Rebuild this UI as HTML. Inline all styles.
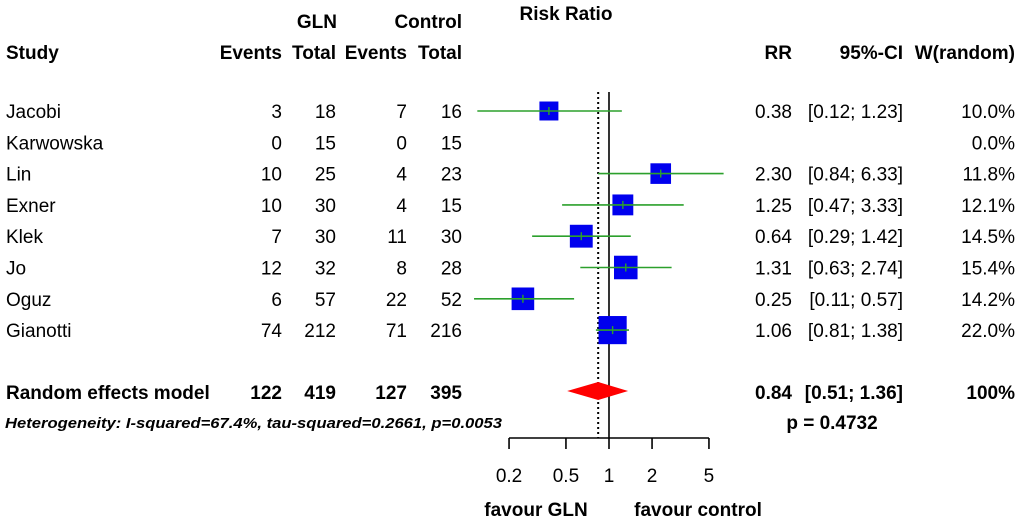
<!DOCTYPE html>
<html><head><meta charset="utf-8"><style>
html,body{margin:0;padding:0;background:#fff}
svg{display:block}
text{font-family:"Liberation Sans",Arial,sans-serif;font-size:19px;fill:#000}
.b{font-weight:bold}
</style></head><body>
<svg id="fp" width="1024" height="521">
<g id="hdr">
<text class="b" x="337" y="28" text-anchor="end">GLN</text>
<text class="b" x="462" y="28" text-anchor="end">Control</text>
<text class="b" x="566" y="20" text-anchor="middle">Risk Ratio</text>
<text class="b" x="6" y="59">Study</text>
<text class="b" x="282" y="59" text-anchor="end">Events</text>
<text class="b" x="336" y="59" text-anchor="end">Total</text>
<text class="b" x="407" y="59" text-anchor="end">Events</text>
<text class="b" x="462" y="59" text-anchor="end">Total</text>
<text class="b" x="792" y="59" text-anchor="end">RR</text>
<text class="b" x="903" y="59" text-anchor="end">95%-CI</text>
<text class="b" x="1015" y="59" text-anchor="end">W(random)</text>
</g>
<g id="rows"></g>
<g id="plot"></g>
<text class="b" x="6" y="399">Random effects model</text>
<text class="b" x="282" y="399" text-anchor="end">122</text>
<text class="b" x="336" y="399" text-anchor="end">419</text>
<text class="b" x="407" y="399" text-anchor="end">127</text>
<text class="b" x="462" y="399" text-anchor="end">395</text>
<text class="b" x="792" y="399" text-anchor="end">0.84</text>
<text class="b" x="903" y="399" text-anchor="end">[0.51; 1.36]</text>
<text class="b" x="1015" y="399" text-anchor="end">100%</text>
<text class="b" x="5" y="428" style="font-size:15px;font-style:italic" textLength="497" lengthAdjust="spacingAndGlyphs">Heterogeneity: I-squared=67.4%, tau-squared=0.2661, p=0.0053</text>
<text class="b" x="832" y="429" text-anchor="middle">p = 0.4732</text>
<text class="b" x="536" y="516" text-anchor="middle">favour GLN</text>
<text class="b" x="698" y="516" text-anchor="middle">favour control</text>
</svg>
<script>
const studies=["Jacobi","Karwowska","Lin","Exner","Klek","Jo","Oguz","Gianotti"];
const glnEvents=[3,0,10,10,7,12,6,74];
const glnTotal=[18,15,25,30,30,32,57,212];
const ctlEvents=[7,0,4,4,11,8,22,71];
const ctlTotal=[16,15,23,15,30,28,52,216];
const rr=[0.38,null,2.30,1.25,0.64,1.31,0.25,1.06];
const lower=[0.12,null,0.84,0.47,0.29,0.63,0.11,0.81];
const upper=[1.23,null,6.33,3.33,1.42,2.74,0.57,1.38];
const weights=[10.0,0.0,11.8,12.1,14.5,15.4,14.2,22.0];
const pooled=[0.84,0.51,1.36];
const ticks=[0.2,0.5,1,2,5];
const tickLabels=["0.2","0.5","1","2","5"];

const NS="http://www.w3.org/2000/svg";
const x=v=>609+143*Math.log10(v);
const rowY=i=>111+31.3*i;
const xmin=x(0.2)-35, xmax=x(5)+20;
const clip=v=>Math.max(xmin,Math.min(xmax,v));
function mk(tag,attrs,parent,txt){const e=document.createElementNS(NS,tag);for(const k in attrs)e.setAttribute(k,attrs[k]);if(txt!=null)e.textContent=txt;parent.appendChild(e);return e;}
const rows=document.getElementById('rows'), plot=document.getElementById('plot');
let l=mk('line',{x1:x(1),x2:x(1),y1:92,y2:438,stroke:'#000','stroke-width':1.6},plot);


l=mk('line',{x1:x(pooled[0]),x2:x(pooled[0]),y1:92,y2:438,stroke:'#000','stroke-width':2,'stroke-dasharray':'2,3'},plot);


studies.forEach((s,i)=>{
  const y=rowY(i), ty=y+7;
  const f=(v,xx,nm)=>{const t=mk('text',{x:xx,y:ty,'text-anchor':'end'},rows,v);
    
    };
  let t=mk('text',{x:6,y:ty},rows,s);
  
  
  f(glnEvents[i],282,'gln-events');f(glnTotal[i],336,'gln-total');
  f(ctlEvents[i],407,'control-events');f(ctlTotal[i],462,'control-total');
  f(weights[i].toFixed(1)+'%',1015,'weight');
  if(rr[i]!=null){
    f(rr[i].toFixed(2),792,'rr-value');
    f('['+lower[i].toFixed(2)+'; '+upper[i].toFixed(2)+']',903,'ci-value');
    const sz=6*Math.sqrt(weights[i]);
    const sq=mk('rect',{x:x(rr[i])-sz/2,y:y-sz/2,width:sz,height:sz,fill:'#0000ee'},plot);
    
    
    const ci=mk('line',{x1:clip(x(lower[i])),x2:clip(x(upper[i])),y1:y,y2:y,stroke:'#2ca02c','stroke-width':1.6},plot);
    
    
    const tk=mk('line',{x1:x(rr[i]),x2:x(rr[i]),y1:y-4,y2:y+4,stroke:'#2ca02c','stroke-width':1.4},plot);
    
    
  }
});
const dy=391;
const d=mk('polygon',{points:`${x(pooled[1])},${dy} ${x(pooled[0])},${dy-9} ${x(pooled[2])},${dy} ${x(pooled[0])},${dy+9}`,fill:'#ff0000'},plot);


const ax=mk('line',{x1:x(ticks[0]),x2:x(ticks[ticks.length-1]),y1:438,y2:438,stroke:'#000','stroke-width':1.6},plot);


ticks.forEach((v,i)=>{
  const t=mk('line',{x1:x(v),x2:x(v),y1:438,y2:449,stroke:'#000','stroke-width':1.6},plot);
  
  
  const lb=mk('text',{x:x(v),y:482,'text-anchor':'middle'},plot,tickLabels[i]);
  
  
});
</script>
</body></html>
